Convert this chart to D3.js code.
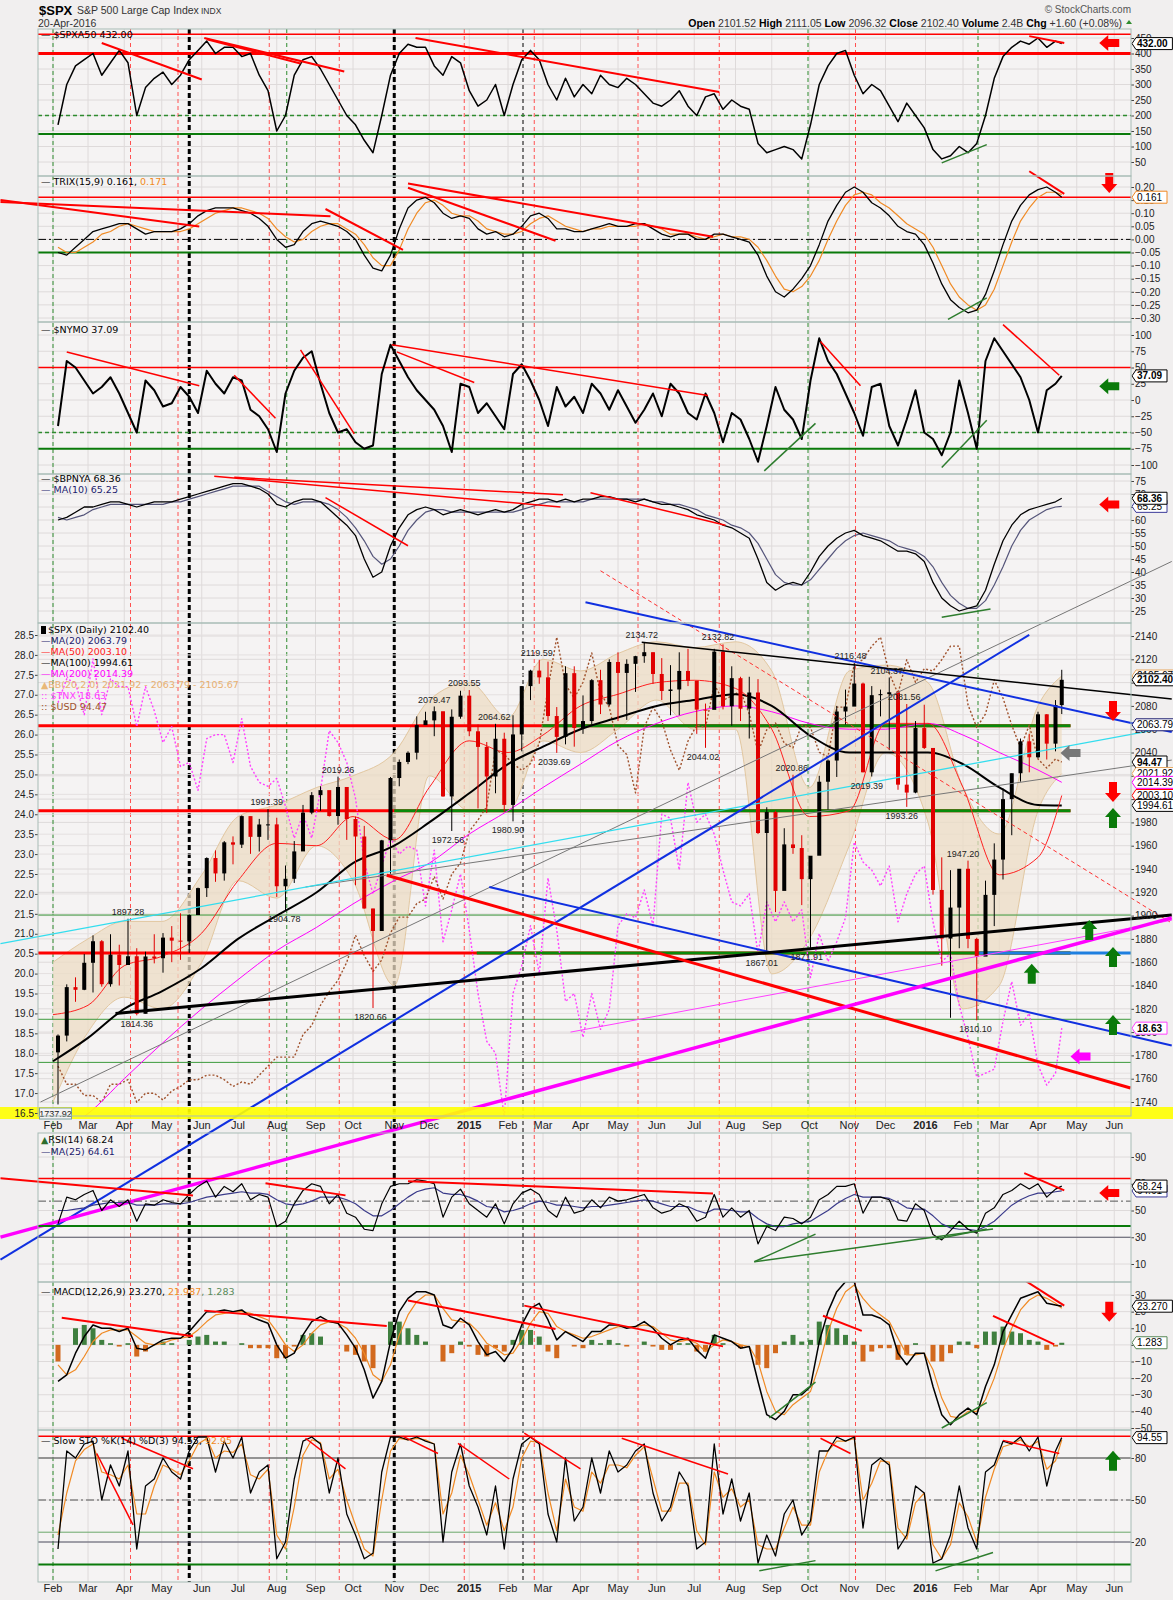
<!DOCTYPE html>
<html>
<head>
<meta charset="utf-8">
<script src="https://cdn.jsdelivr.net/npm/d3@7"></script>
<style>
  body { margin: 0; background: #f1efef; }
  svg text { font-family: "Liberation Sans", Arial, sans-serif; }
  .axis text { font-size: 10px; fill: #222; }
  .axis line { stroke: #444; }
  .leg { font-family: "DejaVu Sans", Verdana, sans-serif !important; font-size: 9.5px; }
</style>
</head>
<body>
<div id="graph"></div>
<script>
"use strict";

// ---- weekly values (Friday closes, last point 20-Apr-2016) ----
const spxClose = [1797.0,1838.6,1836.3,1859.5,1878.0,1841.1,1866.5,1857.6,1865.1,1815.7,
  1864.9,1863.4,1881.1,1878.5,1877.9,1900.5,1923.6,1949.4,1936.2,1962.9,
  1960.9,1985.4,1967.6,1978.2,1978.3,1925.2,1931.6,1955.1,1988.4,2003.4,
  2007.7,1985.5,2010.4,1982.9,1967.9,1906.1,1886.8,1964.6,2018.1,2031.9,
  2039.8,2063.5,2067.6,2075.4,2002.3,2070.7,2088.8,2058.2,2044.8,2019.4,
  2051.8,1995.0,2055.5,2097.0,2110.3,2104.5,2071.3,2053.4,2108.1,2061.0,
  2067.0,2102.1,2081.2,2117.7,2108.3,2116.1,2122.7,2126.1,2107.4,2092.8,
  2094.1,2110.0,2101.5,2076.8,2076.6,2126.6,2079.7,2103.8,2077.6,2091.5,
  1970.9,1988.9,1921.2,1961.1,1958.0,1931.3,1951.4,2014.9,2033.1,2075.2,
  2079.4,2099.2,2023.0,2089.2,2090.1,2091.7,2012.4,2005.6,2061.0,2043.9,
  1922.0,1880.3,1906.9,1940.2,1880.0,1864.8,1917.8,1948.1,2000.0,2022.2,
  2049.6,2035.9,2072.8,2047.6,2080.7,2102.4];
const spxHigh = [1798,1841,1847,1867,1883,1879,1884,1875,1897.3,1872,
  1869,1884,1885,1891,1902,1901,1924,1950,1956,1964,
  1968,1986,1985,1983,1991.4,1984,1943,1964,1995,2006,
  2011,2007,2019.3,2010,1985,1977,1906,1965,2019,2034,
  2041,2071,2075,2079.5,2075,2077,2093,2093.6,2064,2049,
  2064.6,2057,2072,2097,2111,2119.6,2118,2079,2114,2114,
  2089,2103,2111,2120,2126,2120,2123,2134.7,2126,2121,
  2115,2126,2129,2085,2082,2129,2132.8,2114,2105,2105,
  2103,1993,1990,1975,2020.9,1969,1951,2020,2034,2080,
  2094,2116.5,2100,2097,2094,2104.4,2093,2081.6,2067,2081,
  2038,1950,1939,1940,1947.2,1881,1930,1962,2009,2022,
  2052,2056,2075,2073,2085,2111];
const spxLow = [1737.9,1792,1826,1836,1834,1839,1839,1840,1858,1814.4,
  1816,1859,1851,1860,1862,1868,1902,1916,1929,1930,
  1944,1958,1953,1955,1965,1916,1904.8,1928,1956,1987,
  1990,1985,1978,1965,1926,1906,1820.7,1887,1936,2011,
  2030,2034,2065,2054,2002,1972.6,2069,2054,1992,1988,
  2005,1989,1980.9,2041,2085,2099,2067,2039.7,2047,2045,
  2056,2064,2073,2080,2067,2068,2092,2117,2099,2085,
  2072,2072,2097,2056,2044.0,2085,2077,2063,2067,2052,
  1970,1867.0,1903,1937,1953,1909,1871.9,1952,1991,2019,
  2064,2082,2023,2019.4,2071,2042,2008,1993.3,2005,2043,
  1918,1857,1812.3,1872,1872,1810.1,1871,1891,1931,1969,
  2015,2023,2035,2034,2041,2073];
const spxa50 = [170,300,360,380,400,330,370,410,370,200,
  290,320,340,300,330,380,410,440,400,420,
  420,390,400,330,280,150,200,330,380,390,
  350,300,250,200,170,120,80,200,330,400,
  430,420,420,360,330,390,370,280,230,250,
  300,200,300,380,410,380,300,250,320,260,
  300,270,330,300,290,320,300,270,240,230,
  250,280,230,200,260,270,220,250,230,220,
  110,80,90,100,90,60,170,300,360,400,
  410,330,270,300,280,230,180,240,200,160,
  90,60,70,100,80,110,200,320,390,420,
  440,430,450,420,440,432];
const trix = [-0.05,-0.06,-0.03,0.00,0.03,0.04,0.05,0.06,0.06,0.04,
  0.02,0.03,0.03,0.03,0.04,0.06,0.09,0.11,0.12,0.12,
  0.12,0.11,0.10,0.08,0.05,0.00,-0.03,-0.02,0.03,0.06,
  0.07,0.06,0.05,0.03,0.00,-0.06,-0.11,-0.12,-0.06,0.04,
  0.12,0.15,0.16,0.14,0.10,0.08,0.09,0.08,0.04,0.02,
  0.03,0.01,0.02,0.05,0.09,0.10,0.08,0.04,0.04,0.03,
  0.03,0.04,0.05,0.06,0.05,0.05,0.06,0.06,0.04,0.02,
  0.01,0.02,0.02,0.00,0.00,0.02,0.02,0.01,0.00,-0.01,
  -0.06,-0.14,-0.20,-0.22,-0.19,-0.15,-0.10,-0.02,0.07,0.13,
  0.18,0.20,0.18,0.14,0.12,0.09,0.05,0.03,0.02,-0.02,
  -0.09,-0.17,-0.23,-0.26,-0.28,-0.27,-0.21,-0.12,-0.02,0.07,
  0.13,0.17,0.19,0.20,0.18,0.161];
const trixSignal = [-0.03,-0.05,-0.05,-0.03,-0.01,0.02,0.03,0.05,0.06,0.05,
  0.04,0.03,0.03,0.03,0.03,0.04,0.06,0.08,0.10,0.11,
  0.12,0.12,0.11,0.10,0.08,0.04,0.01,-0.01,0.00,0.03,
  0.05,0.06,0.06,0.04,0.02,-0.02,-0.07,-0.10,-0.10,-0.04,
  0.04,0.10,0.14,0.15,0.13,0.10,0.09,0.09,0.07,0.04,
  0.03,0.02,0.02,0.03,0.06,0.08,0.09,0.07,0.05,0.04,
  0.03,0.04,0.04,0.05,0.05,0.05,0.05,0.06,0.05,0.04,
  0.02,0.02,0.02,0.01,0.00,0.01,0.02,0.01,0.01,0.00,
  -0.03,-0.08,-0.14,-0.19,-0.20,-0.18,-0.14,-0.08,0.00,0.07,
  0.13,0.17,0.18,0.17,0.14,0.12,0.09,0.06,0.04,0.02,
  -0.03,-0.10,-0.17,-0.22,-0.25,-0.27,-0.25,-0.19,-0.10,-0.01,
  0.07,0.12,0.16,0.18,0.18,0.171];
const nymo = [-40,60,50,30,10,20,35,10,-20,-50,
  30,15,-10,-5,20,5,-20,45,25,10,
  35,30,-15,-25,-45,-80,10,45,65,75,
  25,-20,-50,-45,-65,-75,-70,40,85,60,
  35,15,0,-15,-40,-80,25,20,-20,-5,
  -25,-45,40,55,30,0,-40,20,-10,5,
  -20,25,10,-15,15,-10,-35,-15,10,-25,
  25,10,-20,-30,10,-20,-65,-20,-30,-60,
  -95,-40,20,-15,-30,-60,30,95,60,40,
  10,-20,-55,20,25,-40,-70,-30,15,-50,
  -60,-85,-50,30,-20,-75,60,95,75,55,
  35,0,-50,15,25,37.09];
const bpnya = [60,61,63,65,65,66,67,67,66,65,
  66,67,67,67,68,69,70,71,72,73,
  74,74,73,72,70,66,65,67,68,68,
  67,64,61,58,54,45,38,40,50,57,
  62,64,65,64,62,63,64,63,62,63,
  64,63,64,66,67,68,68,67,68,67,
  68,68,69,69,68,68,67,68,67,66,
  66,65,64,62,61,60,58,57,55,53,
  45,36,33,35,36,35,40,46,50,53,
  55,56,54,53,52,50,48,48,47,44,
  36,30,27,25,26,27,33,43,52,58,
  62,64,65,66,67,68.36];
const bpnyaMa = [61,60,61,62,64,65,66,66,66,66,
  66,66,66,67,67,68,69,70,71,72,
  73,73,73,73,71,69,67,66,67,67,
  67,66,64,61,57,52,46,43,45,50,
  56,60,63,64,64,63,63,63,63,63,
  63,63,63,64,65,66,67,67,67,67,
  67,68,68,68,68,68,68,68,67,67,
  66,66,65,64,62,61,60,58,57,55,
  51,45,39,36,35,35,37,41,45,49,
  52,54,55,54,53,52,50,49,48,46,
  42,36,31,28,26,26,29,35,42,50,
  56,60,62,64,65,65.25];
const tnx = [26.8,27.4,27.3,26.5,27.9,26.5,27.4,27.2,27.2,26.2,
  27.2,26.6,25.8,26.2,25.2,25.3,24.6,25.9,26.0,26.0,
  25.3,26.4,25.2,24.8,24.7,24.9,24.2,23.4,24.0,23.4,
  24.6,26.1,25.8,25.3,24.4,22.8,22.0,22.7,23.4,23.0,
  23.2,23.1,21.7,23.1,20.8,21.6,22.5,21.1,19.5,18.3,
  18.0,16.4,19.5,20.2,21.2,20.0,22.4,21.1,19.3,19.5,
  18.4,19.5,18.6,19.1,21.2,21.5,21.4,22.1,21.2,24.0,
  23.9,22.6,24.8,23.8,24.0,23.5,22.6,21.8,21.7,22.0,
  20.5,21.8,21.3,21.8,21.3,21.6,19.9,21.0,20.3,20.8,
  21.4,23.3,22.8,22.6,22.2,22.7,21.3,22.0,22.5,22.7,
  21.3,20.3,20.5,19.2,18.4,17.4,17.5,17.6,18.8,19.8,
  18.7,19.0,17.7,17.2,17.5,18.63];
const usd = [81.0,80.2,80.2,79.7,79.7,79.4,80.2,80.2,80.4,79.4,
  79.8,79.8,79.5,79.9,80.1,80.4,80.4,80.6,80.6,80.4,
  80.1,80.3,80.2,80.6,81.0,81.4,81.4,81.4,82.4,82.8,
  83.7,84.3,84.8,85.6,86.8,85.9,85.2,85.7,86.9,87.6,
  87.6,88.2,88.4,89.4,88.4,89.5,90.0,91.4,91.9,92.5,
  95.0,94.8,94.4,94.1,94.4,95.3,97.7,100.0,97.9,97.3,
  98.0,99.3,97.5,96.9,95.2,94.8,93.1,96.0,96.9,96.3,
  95.0,94.1,95.4,96.1,96.0,97.9,97.2,97.4,97.6,96.6,
  94.9,95.9,96.2,95.3,95.1,96.1,96.0,94.9,94.7,96.9,
  96.9,98.8,99.0,99.6,100.0,98.4,97.5,99.0,98.0,98.6,
  98.5,99.0,99.6,99.6,97.0,96.0,96.6,98.1,97.3,96.1,
  95.1,96.1,94.6,94.2,94.6,94.47];
const rsi = [40,60,58,62,65,50,58,53,58,42,
  55,54,58,56,55,62,68,72,60,68,
  64,70,58,62,60,38,42,55,65,70,
  68,55,62,48,45,36,35,55,68,70,
  70,73,72,70,45,60,66,55,50,45,
  55,40,55,63,66,62,50,45,60,48,
  50,58,52,60,57,58,60,62,52,48,
  50,55,52,42,45,62,45,52,45,50,
  25,38,35,45,44,40,45,58,62,68,
  68,70,48,60,60,58,43,42,55,50,
  32,28,35,42,36,33,48,52,62,65,
  70,66,70,60,66,68.24];
const rsiMa = [50,50,51,52,54,55,56,56,56,54,
  54,54,55,55,55,56,58,60,61,62,
  63,64,63,63,62,58,55,54,55,57,
  60,60,60,58,55,50,46,46,50,55,
  60,64,66,67,63,62,62,60,57,53,
  52,49,50,52,55,57,56,54,54,53,
  52,53,53,54,55,56,57,58,57,55,
  53,53,53,50,48,51,51,50,49,49,
  44,40,38,38,40,41,42,46,50,55,
  59,62,60,60,60,59,56,52,51,51,
  46,40,37,36,36,35,38,42,48,54,
  58,61,63,63,64,64.61];
const macd = [-22,-18,-5,5,12,10,10,8,10,-2,
  -3,0,3,4,4,8,14,20,20,21,
  20,21,17,15,13,0,-8,-5,6,14,
  17,14,13,6,-2,-15,-32,-22,2,20,
  28,32,32,30,12,10,16,12,2,-6,
  -4,-10,-2,12,22,25,15,3,8,5,
  2,8,8,12,12,10,11,14,10,4,
  0,3,4,-3,-8,6,4,2,-2,-1,
  -22,-42,-45,-40,-30,-30,-25,2,20,32,
  38,38,18,18,16,12,-5,-12,-5,-5,
  -25,-42,-48,-42,-38,-42,-25,-12,8,18,
  28,30,32,25,24,23.27];
const macdSignal = [-12,-18,-15,-7,2,7,9,9,9,5,
  1,0,1,3,4,5,9,14,18,19,
  20,20,19,17,15,8,0,-4,0,7,
  12,14,13,10,4,-5,-18,-22,-12,6,
  18,26,30,30,22,15,14,13,8,1,
  -2,-6,-5,3,13,20,19,11,8,6,
  4,5,7,9,11,11,11,12,11,7,
  3,2,3,1,-4,0,3,2,0,-1,
  -10,-28,-40,-42,-36,-32,-28,-12,8,22,
  32,36,28,22,18,14,4,-6,-6,-5,
  -15,-32,-43,-44,-40,-40,-33,-20,-3,10,
  21,27,30,28,25,21.99];
const stoK = [15,85,80,90,92,50,75,60,85,15,
  60,65,80,70,65,85,95,95,70,92,
  80,95,55,70,75,8,20,65,92,95,
  90,55,80,40,25,8,12,70,95,95,
  93,95,92,90,20,70,90,60,45,25,
  60,15,65,90,95,90,40,20,80,35,
  45,80,55,85,70,75,85,90,55,35,
  45,70,60,15,20,90,40,65,35,55,
  5,25,10,40,50,25,35,85,85,95,
  92,95,30,75,80,75,15,25,60,55,
  5,8,25,60,30,15,70,75,92,90,
  95,85,95,60,85,94.55];
const stoD = [25,55,78,86,90,70,68,65,75,40,
  40,60,75,72,68,78,90,94,80,85,
  84,90,68,65,72,25,15,45,82,93,
  91,65,72,50,32,15,10,50,85,94,
  93,94,93,90,40,55,82,68,50,32,
  48,28,45,80,92,91,55,28,65,45,
  42,70,62,75,75,73,82,88,65,42,
  42,62,62,28,18,70,52,58,45,50,
  18,15,15,30,45,32,32,70,85,92,
  92,94,50,62,78,77,30,22,48,55,
  18,8,18,48,38,20,52,72,88,90,
  93,88,92,72,78,92.95];

// ---- monthly readings of the overlays on the price panel ----
const monthDates = ["2014-02-03","2014-03-03","2014-04-01","2014-05-01","2014-06-02","2014-07-01","2014-08-01",
  "2014-09-02","2014-10-01","2014-11-03","2014-12-01","2015-01-02","2015-02-02","2015-03-02","2015-04-01",
  "2015-05-01","2015-06-01","2015-07-01","2015-08-03","2015-09-01","2015-10-01","2015-11-02","2015-12-01",
  "2016-01-04","2016-02-01","2016-03-01","2016-04-01","2016-04-20"];
const ma50 = [1815,1823,1857,1865,1885,1930,1962,1960,1985,1965,2010,2050,2040,2055,2080,2090,2100,2102,2095,2060,1985,1990,2065,2065,2010,1935,1950,2003.1];
const ma100 = [1775,1795,1820,1835,1855,1880,1900,1920,1945,1960,1980,2005,2030,2045,2060,2070,2080,2085,2090,2080,2055,2040,2040,2040,2030,2010,1995,1994.6];
const ma200 = [1712,1730,1760,1790,1820,1845,1870,1890,1910,1930,1945,1970,1990,2010,2030,2050,2065,2075,2080,2075,2065,2060,2060,2065,2055,2040,2025,2014.4];
const bbUpper = [1860,1880,1895,1895,1935,1985,1995,2010,2020,2040,2085,2100,2070,2120,2110,2125,2135,2130,2135,2110,2010,2110,2115,2100,2010,1970,2080,2105.7];
const bbLower = [1740,1800,1830,1820,1860,1930,1915,1960,1930,1840,2020,1990,1990,2050,2040,2060,2085,2060,2060,1850,1880,1960,2040,1980,1820,1840,1990,2021.9];

// ---- swing labels on the price panel [value, date, 1 = high / -1 = low] ----
const swingLabels = [[1897.28,"2014-04-04",1],[1814.36,"2014-04-11",-1],
  [1991.39,"2014-07-24",1],[1904.78,"2014-08-07",-1],[2019.26,"2014-09-19",1],[1820.66,"2014-10-15",-1],
  [2079.47,"2014-12-05",1],[2093.55,"2014-12-29",1],[1972.56,"2014-12-16",-1],[2064.62,"2015-01-22",1],
  [1980.90,"2015-02-02",-1],[2119.59,"2015-02-25",1],[2039.69,"2015-03-11",-1],[2134.72,"2015-05-20",1],
  [2132.82,"2015-07-20",1],[2044.02,"2015-07-08",-1],[1867.01,"2015-08-24",-1],[2020.86,"2015-09-17",1],
  [1871.91,"2015-09-29",-1],[2116.48,"2015-11-03",1],[2019.39,"2015-11-16",-1],[2104.37,"2015-12-02",1],
  [2081.56,"2015-12-16",1],[1993.26,"2015-12-14",-1],[1947.20,"2016-02-01",1],[1810.10,"2016-02-11",-1]];
const lowestLabel = [1737.92, "2014-02-05"];

// ---- hand-drawn annotations: [date1, value1, date2, value2] ----
const a50Red = [["2014-03-14",434,"2014-06-02",316],["2014-06-04",450,"2014-09-24",342],
  ["2014-06-06",446,"2014-08-20",368],["2014-11-20",450,"2015-07-21",276],["2016-03-25",456,"2016-04-22",434]];
const a50Green = [["2016-01-15",47,"2016-02-20",106]];
const trixRed = [["2013-12-23",0.150,"2014-05-31",0.049],["2013-12-23",0.143,"2014-09-13",0.088],
  ["2014-09-09",0.116,"2014-11-10",-0.040],["2014-11-14",0.213,"2015-07-16",0.010],
  ["2014-11-14",0.197,"2015-03-12",-0.005],["2016-03-25",0.260,"2016-04-22",0.174]];
const trixGreen = [["2016-01-20",-0.305,"2016-02-20",-0.223]];
const nymoRed = [["2014-02-14",74,"2014-05-31",22],["2014-06-28",38,"2014-07-31",-28],
  ["2014-08-20",77,"2014-10-02",-52],["2014-11-01",85,"2015-07-12",7],["2014-11-05",74,"2015-01-06",27],
  ["2015-10-10",90,"2015-11-11",22],["2016-03-04",116,"2016-04-18",38]];
const nymoGreen = [["2015-08-26",-109,"2015-10-06",-36],["2016-01-15",-104,"2016-02-20",-31]];
const bpRed = [["2014-06-12",76.8,"2015-03-16",65.0],["2014-06-28",76.4,"2015-03-18",69.7],
  ["2014-09-09",68.6,"2014-11-14",50.1],["2015-04-09",70.5,"2015-07-26",58.0]];
const bpGreen = [["2016-01-15",22.6,"2016-02-23",25.8]];
const rsiRed = [["2013-12-23",74.2,"2014-05-26",61.3],["2014-07-23",70.4,"2014-09-25",61.3],
  ["2014-11-14",71.9,"2015-07-16",62.8],["2016-03-21",78.0,"2016-04-22",65.1]];
const rsiGreen = [["2015-08-18",11.7,"2015-10-06",32.3],["2015-08-18",11.7,"2016-02-25",36.1],
  ["2016-01-10",28.5,"2016-02-20",36.1]];
const macdRed = [["2014-02-10",16.3,"2014-05-26",5.2],["2014-06-04",20.6,"2014-10-28",11.4],
  ["2014-11-14",26.7,"2015-03-12",9.5],["2015-02-15",23.6,"2015-07-24",-0.9],
  ["2015-10-12",17.5,"2015-11-12",8.4],["2016-03-21",39.0,"2016-04-22",23.6],["2016-02-25",17.5,"2016-04-14",0.3]];
const macdGreen = [["2015-08-30",-43.9,"2015-10-06",-22.4],["2016-01-15",-50,"2016-02-20",-34.7]];
const stoRed = [["2014-03-10",83.2,"2014-04-08",32.2],["2014-03-30",94.1,"2014-05-26",72.3],
  ["2014-08-24",94.1,"2014-09-25",72.3],["2014-11-10",95.5,"2014-12-08",83.2],
  ["2014-12-24",90.5,"2015-02-03",65.0],["2015-02-15",97.8,"2015-04-01",72.3],
  ["2015-05-04",94.1,"2015-07-28",68.6],["2015-10-10",94.1,"2015-11-03",83.2],["2016-03-04",92.6,"2016-04-18",83.2]];
const stoGreen = [["2015-08-22",-0.6,"2015-10-06",6.7],["2016-01-10",-0.6,"2016-02-25",12.5]];

// price panel lines
const spxBlackThick = [["2014-03-25",1816,"2016-07-17",1900.5]];
const spxBlackThin = [["2015-05-20",2134.7,"2016-07-17",2086]];
const spxBlue = [["2015-04-05",2169,"2016-07-17",2057.6],["2015-01-18",1924.5,"2016-07-17",1788.5],
  ["2013-12-23",1604.6,"2016-03-25",2141]];
const spxMagentaThick = [["2013-12-23",1624,"2016-07-17",1898]];
const spxMagentaThin = [["2015-03-24",1800,"2016-07-17",1896]];
const spxRedThick = [["2014-10-28",1934.6,"2016-06-14",1752]];
const spxRedDashed = [["2015-04-17",2196,"2016-07-17",1893.6]];
const spxCyan = [["2013-12-23",1876,"2016-07-17",2062]];
const spxGray = [["2014-01-24",1740,"2016-07-17",2204],["2014-08-24",1924.5,"2016-07-17",2033.5]];
const redLevels = [2063, 1990, 1868];
const greenLevels = [[2063,"2015-03-01"],[1990,"2014-11-03"],[1868,"2015-01-08"]];
const thinGreenLevels = [1900.5, 1811, 1774];
const levelEnd = "2016-04-27";

// vertical markers
const vRed = ["2014-04-06","2014-05-14","2014-07-26","2014-09-20","2014-12-29","2015-02-23","2015-05-17","2015-07-21","2015-11-07"];
const vGreen = ["2014-02-03","2014-08-09","2015-09-30","2016-02-13"];
const vBlackThick = ["2014-05-23","2014-11-03"];
const vBlack = ["2015-02-14"];

(function() {
    const svgSize = { width: 1173, height: 1600 };
    const plotLeft = 38, plotRight = 1131;
    const parse = d3.timeParse("%Y-%m-%d");

    const weekDates = d3.timeFriday.range(new Date(2014, 1, 7), new Date(2016, 3, 16));
    weekDates.push(new Date(2016, 3, 20));
    const mDates = monthDates.map(parse);

    const xScale = d3.scaleTime()
        .domain([new Date(2014, 1, 3), new Date(2016, 0, 4)])
        .range([53, 928]);

    const panels = {
        a50:  { top: 29,   bottom: 176 },
        trix: { top: 176,  bottom: 322 },
        nymo: { top: 322,  bottom: 474 },
        bp:   { top: 474,  bottom: 623 },
        spx:  { top: 623,  bottom: 1116 },
        rsi:  { top: 1133, bottom: 1282 },
        macd: { top: 1282, bottom: 1430 },
        sto:  { top: 1430, bottom: 1582 }
    };

    const y = {
        a50:  d3.scaleLinear().domain([50, 450]).range([162, 38]),
        trix: d3.scaleLinear().domain([-0.30, 0.20]).range([318, 187]),
        nymo: d3.scaleLinear().domain([-100, 100]).range([465, 335]),
        bp:   d3.scaleLinear().domain([25, 75]).range([611, 481]),
        spx:  d3.scaleLinear().domain([1740, 2140]).range([1102, 636]),
        tnx:  d3.scaleLinear().domain([16.5, 28.5]).range([1113, 635]),
        usd:  d3.scaleLinear().domain([79.5, 94.47]).range([1100, 762]),
        rsi:  d3.scaleLinear().domain([10, 90]).range([1264, 1157]),
        macd: d3.scaleLinear().domain([-50, 30]).range([1428, 1295]),
        sto:  d3.scaleLinear().domain([20, 80]).range([1542, 1458])
    };

    const ticks = {
        a50: d3.range(50, 451, 50),
        trix: d3.range(-6, 5).map(k => k * 0.05),
        nymo: d3.range(-100, 101, 25),
        bp: d3.range(25, 76, 5),
        spx: d3.range(1740, 2141, 20),
        rsi: [10, 30, 50, 70, 90],
        macd: d3.range(-50, 31, 10),
        sto: [20, 50, 80]
    };
    const fmts = {
        a50: d3.format("d"), trix: d3.format(".2f"), nymo: d3.format("d"), bp: d3.format("d"),
        spx: d3.format("d"), rsi: d3.format("d"), macd: d3.format("d"), sto: d3.format("d")
    };

    const svg = d3.select("#graph").append("svg")
        .attr("width", svgSize.width)
        .attr("height", svgSize.height);

    svg.append("rect").attr("width", svgSize.width).attr("height", svgSize.height).attr("fill", "#f1efef");

    const months = d3.timeMonth.range(new Date(2014, 1, 1), new Date(2016, 6, 1));
    const monthX = months.map(d => {
        let t = d;
        while (t.getDay() === 0 || t.getDay() === 6) t = d3.timeDay.offset(t, 1);
        if (t.getMonth() === 0 && t.getDate() === 1) t = d3.timeDay.offset(t, 1);
        return xScale(t);
    });

    // panel backgrounds, grids, clips
    const defs = svg.append("defs");
    Object.keys(panels).forEach(k => {
        const p = panels[k];
        svg.append("rect")
            .attr("x", plotLeft).attr("y", p.top)
            .attr("width", plotRight - plotLeft).attr("height", p.bottom - p.top)
            .attr("fill", "#f5f3f3");
        defs.append("clipPath").attr("id", "clip-" + k)
            .append("rect")
            .attr("x", plotLeft).attr("y", p.top)
            .attr("width", plotRight - plotLeft).attr("height", p.bottom - p.top);
        const grid = svg.append("g").attr("clip-path", "url(#clip-" + k + ")");
        grid.selectAll("line.v").data(monthX).enter().append("line")
            .attr("x1", d => d).attr("x2", d => d)
            .attr("y1", p.top).attr("y2", p.bottom)
            .attr("stroke", "#dedada").attr("stroke-width", 1);
        grid.selectAll("line.h").data(ticks[k]).enter().append("line")
            .attr("x1", plotLeft).attr("x2", plotRight)
            .attr("y1", d => y[k](d)).attr("y2", d => y[k](d))
            .attr("stroke", "#dedada").attr("stroke-width", 1);
    });
    const tnxTicks = d3.range(33, 58).map(k => k / 2);

    // vertical markers across all panels
    const vg = svg.append("g");
    function vLines(dates, color, width, dash) {
        vg.selectAll(null).data(dates).enter().append("line")
            .attr("x1", d => xScale(parse(d))).attr("x2", d => xScale(parse(d)))
            .attr("y1", panels.a50.top).attr("y2", panels.sto.bottom)
            .attr("stroke", color).attr("stroke-width", width)
            .attr("stroke-dasharray", dash);
    }
    vLines(vRed, "#ff5050", 1, "4,3");
    vLines(vGreen, "#2e8b2e", 1, "4,3");
    vLines(vBlack, "#000", 1, "4,3");
    vLines(vBlackThick, "#000", 3, "5,3");

    function hLine(g, yy, x1, x2, color, width, dash) {
        g.append("line").attr("x1", x1).attr("x2", x2).attr("y1", yy).attr("y2", yy)
            .attr("stroke", color).attr("stroke-width", width)
            .attr("stroke-dasharray", dash || null);
    }

    function seriesLine(g, scale, values, color, width, dash) {
        g.append("path")
            .datum(values)
            .attr("fill", "none")
            .attr("stroke", color)
            .attr("stroke-width", width)
            .attr("stroke-dasharray", dash || null)
            .attr("stroke-linejoin", "round")
            .attr("d", d3.line().x((d, i) => xScale(weekDates[i])).y(d => scale(d)));
    }

    function segs(g, scale, list, color, width, dash) {
        g.selectAll(null).data(list).enter().append("line")
            .attr("x1", d => xScale(parse(d[0]))).attr("y1", d => scale(d[1]))
            .attr("x2", d => xScale(parse(d[2]))).attr("y2", d => scale(d[3]))
            .attr("stroke", color).attr("stroke-width", width)
            .attr("stroke-dasharray", dash || null);
    }

    function rightAxis(k) {
        svg.append("g").attr("class", "axis")
            .attr("transform", "translate(" + plotRight + ",0)")
            .call(d3.axisRight(y[k]).tickValues(ticks[k]).tickSize(3).tickPadding(1).tickFormat(fmts[k]))
            .call(g => g.select(".domain").remove());
    }

    function tagBox(yy, text, stroke, bold) {
        const x0 = plotRight + 1;
        const w = text.length * 5.4 + 4;
        const g = svg.append("g");
        g.append("path")
            .attr("d", "M" + x0 + "," + yy + " l4,-6 h" + w + " v12 h-" + w + " Z")
            .attr("fill", "#fff").attr("stroke", stroke).attr("stroke-width", 1);
        g.append("text").attr("x", x0 + 5).attr("y", yy + 3.5)
            .attr("font-size", "10px").attr("font-weight", bold ? "bold" : "normal")
            .attr("fill", "#000").text(text);
    }

    function legend(xx, yy, parts) {
        const t = svg.append("text").attr("class", "leg").attr("x", xx).attr("y", yy);
        parts.forEach(p => t.append("tspan").attr("fill", p[1]).text(p[0]));
    }

    const arrowShapes = {
        left: "M-10,0 L-1,-8 L-1,-4 L10,-4 L10,4 L-1,4 L-1,8 Z",
        down: "M0,10 L-8,1 L-4,1 L-4,-10 L4,-10 L4,1 L8,1 Z",
        up:   "M0,-10 L-8,-1 L-4,-1 L-4,10 L4,10 L4,-1 L8,-1 Z"
    };
    function arrow(date, yy, kind, color) {
        svg.append("path")
            .attr("transform", "translate(" + xScale(parse(date)) + "," + yy + ")")
            .attr("d", arrowShapes[kind]).attr("fill", color);
    }

    // ================= $SPXA50 =================
    const gA = svg.append("g").attr("clip-path", "url(#clip-a50)");
    hLine(gA, y.a50(462), plotLeft, plotRight, "#ff0000", 1.5);
    hLine(gA, y.a50(400), plotLeft, plotRight, "#ff0000", 3);
    hLine(gA, y.a50(200), plotLeft, plotRight, "#2e8b2e", 1.5, "4,3");
    hLine(gA, y.a50(140), plotLeft, plotRight, "#0a7a0a", 2);
    seriesLine(gA, y.a50, spxa50, "#000", 1.5);
    segs(gA, y.a50, a50Red, "#ff0000", 2);
    segs(gA, y.a50, a50Green, "#2e7d2e", 1.5);
    rightAxis("a50");
    legend(41, 38, [["\u2014 ", "#000"], ["$SPXA50 432.00", "#000"]]);
    arrow("2016-05-28", y.a50(434), "left", "#ff0000");
    tagBox(y.a50(432), "432.00", "#000", true);

    // ================= TRIX =================
    const gT = svg.append("g").attr("clip-path", "url(#clip-trix)");
    hLine(gT, y.trix(0.161), plotLeft, plotRight, "#ff0000", 1.5);
    hLine(gT, y.trix(0), plotLeft, plotRight, "#000", 1, "8,3,2,3");
    hLine(gT, y.trix(-0.05), plotLeft, plotRight, "#0a7a0a", 2);
    seriesLine(gT, y.trix, trixSignal, "#f08a24", 1.2);
    seriesLine(gT, y.trix, trix, "#000", 1.3);
    segs(svg, y.trix, trixRed, "#ff0000", 2);
    segs(gT, y.trix, trixGreen, "#2e7d2e", 1.5);
    rightAxis("trix");
    legend(41, 185, [["\u2014 TRIX(15,9) 0.161, ", "#000"], ["0.171", "#f08a24"]]);
    arrow("2016-05-28", y.trix(0.215), "down", "#ff0000");
    tagBox(y.trix(0.161), "0.161", "#f08a24", false);

    // ================= $NYMO =================
    const gN = svg.append("g").attr("clip-path", "url(#clip-nymo)");
    hLine(gN, y.nymo(50), plotLeft, plotRight, "#ff0000", 1.5);
    hLine(gN, y.nymo(-50), plotLeft, plotRight, "#2e8b2e", 1.5, "4,3");
    hLine(gN, y.nymo(-75), plotLeft, plotRight, "#0a7a0a", 2);
    seriesLine(gN, y.nymo, nymo, "#000", 2);
    segs(gN, y.nymo, nymoRed, "#ff0000", 1.5);
    segs(gN, y.nymo, nymoGreen, "#2e7d2e", 1.5);
    rightAxis("nymo");
    legend(41, 333, [["\u2014 $NYMO 37.09", "#000"]]);
    arrow("2016-05-28", y.nymo(21), "left", "#0a7a0a");
    tagBox(y.nymo(37.09), "37.09", "#000", true);

    // ================= $BPNYA =================
    const gB = svg.append("g").attr("clip-path", "url(#clip-bp)");
    seriesLine(gB, y.bp, bpnyaMa, "#55557a", 1.2);
    seriesLine(gB, y.bp, bpnya, "#000", 1.3);
    segs(gB, y.bp, bpRed, "#ff0000", 1.5);
    segs(gB, y.bp, bpGreen, "#2e7d2e", 1.5);
    rightAxis("bp");
    legend(41, 482, [["\u2014 $BPNYA 68.36", "#000"]]);
    legend(41, 493, [["\u2014 MA(10) 65.25", "#1c1c6e"]]);
    arrow("2016-05-28", y.bp(66), "left", "#ff0000");
    tagBox(y.bp(65.25), "65.25", "#3a3a9a", false);
    tagBox(y.bp(68.36), "68.36", "#000", true);

    // ================= $SPX price panel =================
    const gS = svg.append("g").attr("clip-path", "url(#clip-spx)");
    gS.selectAll("line.h2").data(tnxTicks).enter().append("line")
        .attr("x1", plotLeft).attr("x2", plotRight)
        .attr("y1", d => y.tnx(d)).attr("y2", d => y.tnx(d))
        .attr("stroke", "#e4e0e0");
    // Bollinger band
    gS.append("path").datum(mDates)
        .attr("fill", "#ecdcc4").attr("opacity", 0.75)
        .attr("d", d3.area().curve(d3.curveMonotoneX)
            .x(d => xScale(d)).y0((d, i) => y.spx(bbLower[i])).y1((d, i) => y.spx(bbUpper[i])));
    [bbUpper, bbLower].forEach(arr => {
        gS.append("path").datum(mDates).attr("fill", "none").attr("stroke", "#e2c7a0").attr("stroke-width", 1)
            .attr("d", d3.line().curve(d3.curveMonotoneX).x(d => xScale(d)).y((d, i) => y.spx(arr[i])));
    });
    // level lines
    redLevels.forEach(v => hLine(gS, y.spx(v), plotLeft, xScale(parse(levelEnd)), "#ff0000", 3));
    greenLevels.forEach(v => hLine(gS, y.spx(v[0]), xScale(parse(v[1])), xScale(parse(levelEnd)), "#0a8a0a", 3));
    thinGreenLevels.forEach(v => hLine(gS, y.spx(v), plotLeft, plotRight, "#3c9a3c", 1));
    hLine(gS, y.spx(1868), xScale(parse("2016-02-14")), plotRight, "#1e7fe0", 3);
    // TNX and USD overlays
    seriesLine(gS, y.tnx, tnx, "#ff40ff", 1.4, "2,2");
    seriesLine(gS, y.usd, usd, "#a0522d", 1.4, "2,2");
    // moving averages
    [[ma200, "#ff00ff", 1], [ma100, "#000", 2], [ma50, "#ff2020", 1]].forEach(m => {
        gS.append("path").datum(mDates).attr("fill", "none").attr("stroke", m[1]).attr("stroke-width", m[2])
            .attr("d", d3.line().curve(d3.curveMonotoneX).x(d => xScale(d)).y((d, i) => y.spx(m[0][i])));
    });
    // candles (open = previous close)
    const candle = gS.append("g");
    weekDates.forEach((d, i) => {
        const open = i > 0 ? spxClose[i - 1] : 1782.6;
        const close = spxClose[i];
        const col = close >= open ? "#000" : "#e00000";
        const cx = xScale(d);
        candle.append("line").attr("x1", cx).attr("x2", cx)
            .attr("y1", y.spx(spxHigh[i])).attr("y2", y.spx(spxLow[i]))
            .attr("stroke", col).attr("stroke-width", 1);
        candle.append("rect").attr("x", cx - 2).attr("width", 4)
            .attr("y", y.spx(Math.max(open, close)))
            .attr("height", Math.max(1, Math.abs(y.spx(open) - y.spx(close))))
            .attr("fill", col);
    });
    // trend lines (not clipped, they run across panels)
    const gTL = svg.append("g");
    segs(gTL, y.spx, spxGray, "#777", 1);
    segs(gTL, y.spx, spxCyan, "#33ddee", 1.3);
    segs(gTL, y.spx, spxRedDashed, "#ff3030", 1, "4,3");
    segs(gTL, y.spx, spxMagentaThin, "#ff40ff", 1);
    segs(gTL, y.spx, spxBlue, "#1030e0", 2);
    segs(gTL, y.spx, spxBlackThin, "#000", 1.5);
    segs(gTL, y.spx, spxBlackThick, "#000", 3);
    segs(gTL, y.spx, spxRedThick, "#ff0000", 3);
    segs(gTL, y.spx, spxMagentaThick, "#ff00ff", 3.5);
    // swing labels
    svg.append("g").selectAll("text").data(swingLabels).enter().append("text")
        .attr("x", d => xScale(parse(d[1])))
        .attr("y", d => y.spx(d[0]) + (d[2] > 0 ? -4 : 12))
        .attr("text-anchor", "middle").attr("font-size", "9px").attr("fill", "#222")
        .text(d => d3.format(".2f")(d[0]));
    // yellow band at the bottom
    svg.append("rect").attr("x", 0).attr("y", y.tnx(16.5) - 6).attr("width", svgSize.width).attr("height", 12)
        .attr("fill", "#ffff00").attr("opacity", 0.9);
    // boxed label of the lowest low, sitting on the band
    const lowX = xScale(parse(lowestLabel[1]));
    svg.append("rect").attr("x", lowX - 16).attr("y", y.tnx(16.5) - 5).attr("width", 32).attr("height", 11)
        .attr("fill", "#f5f3f3").attr("stroke", "#7aa0a0");
    svg.append("text").attr("x", lowX).attr("y", y.tnx(16.5) + 3.5).attr("text-anchor", "middle")
        .attr("font-size", "9px").attr("fill", "#222").text(d3.format(".2f")(lowestLabel[0]));
    // axes
    rightAxis("spx");
    svg.append("g").attr("class", "axis")
        .attr("transform", "translate(" + plotLeft + ",0)")
        .call(d3.axisLeft(y.tnx).tickValues(tnxTicks).tickSize(3).tickPadding(1).tickFormat(d3.format(".1f")))
        .call(g => g.select(".domain").remove());
    // legend
    legend(48, 633, [["$SPX (Daily) 2102.40", "#000"]]);
    legend(41, 644, [["\u2014", "#1c1c6e"], ["MA(20) 2063.79", "#1c1c6e"]]);
    legend(41, 655, [["\u2014", "#ff2020"], ["MA(50) 2003.10", "#ff2020"]]);
    legend(41, 666, [["\u2014", "#000"], ["MA(100) 1994.61", "#000"]]);
    legend(41, 677, [["\u2014", "#ff00ff"], ["MA(200) 2014.39", "#ff00ff"]]);
    legend(41, 688, [["\u25b2", "#e8b878"], ["BB(20,2.0) 2021.92 - 2063.79 - 2105.67", "#e8b070"]]);
    legend(41, 699, [[":: ", "#ff40ff"], ["$TNX 18.63", "#ff40ff"]]);
    legend(41, 710, [[":: ", "#a0522d"], ["$USD 94.47", "#a0522d"]]);
    svg.append("rect").attr("x", 41).attr("y", 626).attr("width", 5).attr("height", 8).attr("fill", "#000");
    // right side tags
    tagBox(y.spx(2105.67), "2105.67", "#e8a860", false);
    tagBox(y.spx(2102.4), "2102.40", "#000", true);
    tagBox(y.spx(2063.79), "2063.79", "#1c1c6e", false);
    tagBox(y.usd(94.47), "94.47", "#000", true);
    tagBox(y.spx(2021.92), "2021.92", "#e8a860", false);
    tagBox(y.spx(2014.39), "2014.39", "#ff00ff", false);
    tagBox(y.spx(2003.1), "2003.10", "#ff0000", false);
    tagBox(y.spx(1994.61), "1994.61", "#000", false);
    tagBox(y.tnx(18.63), "18.63", "#ff40ff", true);
    // arrows
    arrow("2016-05-31", y.spx(2075.6), "down", "#ff0000");
    arrow("2016-05-31", y.spx(2006), "down", "#ff0000");
    arrow("2016-05-31", y.spx(1983.8), "up", "#0a7a0a");
    arrow("2016-05-31", y.spx(1864.5), "up", "#0a7a0a");
    arrow("2016-05-31", y.spx(1806), "up", "#0a7a0a");
    arrow("2016-05-12", y.spx(1887.6), "up", "#0a7a0a");
    arrow("2016-03-27", y.spx(1850), "up", "#0a7a0a");
    arrow("2016-04-27", y.spx(2039.6), "left", "#777");
    arrow("2016-05-05", y.spx(1779), "left", "#ff00ff");

    // x axis labels under price panel and at bottom
    [1129, 1592].forEach(yy => {
        svg.append("g").selectAll("text").data(months).enter().append("text")
            .attr("x", (d, i) => monthX[i]).attr("y", yy)
            .attr("text-anchor", "middle").attr("font-size", "11px")
            .attr("font-weight", d => d.getMonth() === 0 ? "bold" : "normal")
            .attr("fill", "#222")
            .text(d => d.getMonth() === 0 ? d.getFullYear() : d3.timeFormat("%b")(d));
    });

    // ================= RSI =================
    const gR = svg.append("g").attr("clip-path", "url(#clip-rsi)");
    hLine(gR, y.rsi(74), plotLeft, plotRight, "#ff0000", 1.5);
    hLine(gR, y.rsi(57), plotLeft, plotRight, "#555", 1, "8,3,2,3");
    hLine(gR, y.rsi(38.5), plotLeft, plotRight, "#0a7a0a", 2);
    hLine(gR, y.rsi(30), plotLeft, plotRight, "#556", 1);
    seriesLine(gR, y.rsi, rsiMa, "#3a3a8a", 1.2);
    seriesLine(gR, y.rsi, rsi, "#000", 1.2);
    segs(svg, y.rsi, rsiRed, "#ff0000", 2);
    segs(gR, y.rsi, rsiGreen, "#2e7d2e", 1.5);
    rightAxis("rsi");
    legend(41, 1143, [["\u25b2", "#2e6e2e"], ["RSI(14) 68.24", "#000"]]);
    legend(41, 1155, [["\u2014", "#1c1c6e"], ["MA(25) 64.61", "#1c1c6e"]]);
    arrow("2016-05-28", y.rsi(63), "left", "#ff0000");
    tagBox(y.rsi(64.61), "64.61", "#3a3a9a", false);
    tagBox(y.rsi(68.24), "68.24", "#000", false);

    // ================= MACD =================
    const gM = svg.append("g").attr("clip-path", "url(#clip-macd)");
    gM.selectAll("rect").data(macd).enter().append("rect")
        .attr("x", (d, i) => xScale(weekDates[i]) - 2.5)
        .attr("width", 5)
        .attr("y", (d, i) => Math.min(y.macd(0), y.macd(d - macdSignal[i])))
        .attr("height", (d, i) => Math.abs(y.macd(0) - y.macd(d - macdSignal[i])))
        .attr("fill", (d, i) => d - macdSignal[i] >= 0 ? "#3f7f3f" : "#d2691e");
    seriesLine(gM, y.macd, macdSignal, "#f08a24", 1.2);
    seriesLine(gM, y.macd, macd, "#000", 1.5);
    segs(gM, y.macd, macdRed, "#ff0000", 2);
    segs(gM, y.macd, macdGreen, "#2e7d2e", 1.5);
    rightAxis("macd");
    legend(41, 1295, [["\u2014 MACD(12,26,9) 23.270, ", "#000"], ["21.987", "#f08a24"], [", 1.283", "#5a8a5a"]]);
    arrow("2016-05-28", y.macd(20), "down", "#ff0000");
    tagBox(y.macd(1.283), "1.283", "#5a8a5a", false);
    tagBox(y.macd(23.27), "23.270", "#000", false);

    // ================= Slow STO =================
    const gO = svg.append("g").attr("clip-path", "url(#clip-sto)");
    hLine(gO, y.sto(95.5), plotLeft, plotRight, "#ff0000", 1.5);
    hLine(gO, y.sto(80), plotLeft, plotRight, "#777", 1.5);
    hLine(gO, y.sto(50), plotLeft, plotRight, "#555", 1, "8,3,2,3");
    hLine(gO, y.sto(27), plotLeft, plotRight, "#6aa86a", 1);
    hLine(gO, y.sto(20), plotLeft, plotRight, "#556", 1);
    hLine(gO, y.sto(4), plotLeft, plotRight, "#0a7a0a", 2);
    seriesLine(gO, y.sto, stoD, "#f08a24", 1.2);
    seriesLine(gO, y.sto, stoK, "#000", 1.3);
    segs(gO, y.sto, stoRed, "#ff0000", 1.5);
    segs(gO, y.sto, stoGreen, "#2e7d2e", 1.5);
    rightAxis("sto");
    legend(41, 1444, [["\u2014 Slow STO %K(14) %D(3) 94.55, ", "#000"], ["92.95", "#f08a24"]]);
    arrow("2016-05-31", y.sto(78), "up", "#0a7a0a");
    tagBox(y.sto(94.55), "94.55", "#000", false);

    // panel frames
    Object.keys(panels).forEach(k => {
        const p = panels[k];
        svg.append("rect")
            .attr("x", plotLeft).attr("y", p.top)
            .attr("width", plotRight - plotLeft).attr("height", p.bottom - p.top)
            .attr("fill", "none").attr("stroke", "#a7bcb6").attr("stroke-width", 1);
    });

    // header
    const head = svg.append("g");
    head.append("text").attr("x", 39).attr("y", 15).attr("font-size", "13px").attr("font-weight", "bold").text("$SPX");
    head.append("text").attr("x", 77).attr("y", 14).attr("font-size", "10.5px").attr("fill", "#333").text("S&P 500 Large Cap Index");
    head.append("text").attr("x", 201).attr("y", 14).attr("font-size", "8.5px").attr("fill", "#333").text("INDX");
    head.append("text").attr("x", 38).attr("y", 27).attr("font-size", "10.5px").attr("fill", "#333").text("20-Apr-2016");
    head.append("text").attr("x", 1131).attr("y", 13).attr("text-anchor", "end").attr("font-size", "10px").attr("fill", "#555").text("\u00a9 StockCharts.com");
    const ohlc = head.append("text").attr("x", 1122).attr("y", 27).attr("text-anchor", "end").attr("font-size", "10.5px");
    [["Open ", true], ["2101.52 ", false], ["High ", true], ["2111.05 ", false], ["Low ", true], ["2096.32 ", false],
     ["Close ", true], ["2102.40 ", false], ["Volume ", true], ["2.4B ", false], ["Chg ", true], ["+1.60 (+0.08%)", false]]
        .forEach(p => ohlc.append("tspan").attr("font-weight", p[1] ? "bold" : "normal").attr("fill", p[1] ? "#000" : "#333").text(p[0]));
    head.append("path").attr("d", "M1126,24 l3,-4 l3,4 Z").attr("fill", "#2e8b2e");
})();
</script>
</body>
</html>
